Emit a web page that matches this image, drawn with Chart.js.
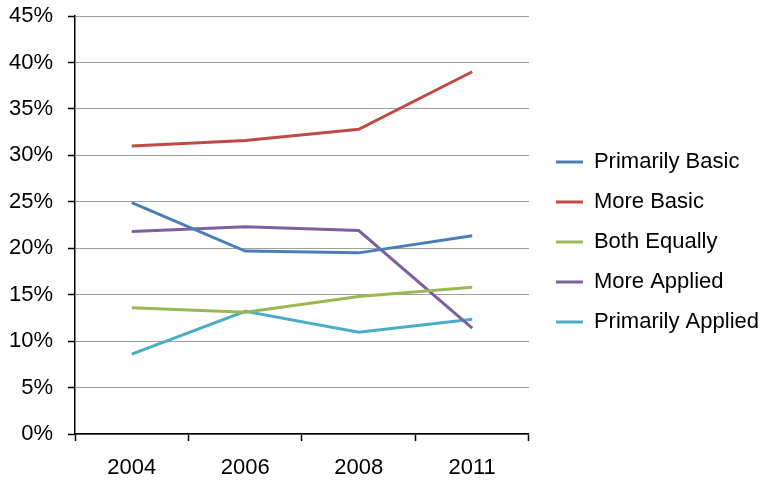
<!DOCTYPE html>
<html>
<head>
<meta charset="utf-8">
<script src="https://cdn.jsdelivr.net/npm/chart.js@4/dist/chart.umd.min.js"></script>
<style>
  body { margin: 0; background: #fff; }
</style>
</head>
<body>
<canvas id="chart" width="766" height="480"></canvas>
<script>
let years = ["2004", "2006", "2008", "2011"];
let primarilyBasic = [24.9, 19.7, 19.5, 21.35];
let moreBasic = [31.0, 31.6, 32.8, 39.0];
let bothEqually = [13.6, 13.1, 14.8, 15.8];
let moreApplied = [21.8, 22.3, 21.9, 11.4];
let primarilyApplied = [8.6, 13.2, 10.95, 12.35];

let colorPrimBasic = "rgb(74, 126, 187)";
let colorMoreBasic = "rgb(190, 75, 72)";
let colorBoth = "rgb(152, 185, 84)";
let colorMoreApplied = "rgb(125, 96, 160)";
let colorPrimApplied = "rgb(75, 172, 198)";

Chart.defaults.font.family = "'Liberation Sans', Arial, sans-serif";
Chart.defaults.font.size = 22;
Chart.defaults.color = "#000";

function series(label, data, color) {
  return {
    label: label,
    data: data,
    borderColor: color,
    backgroundColor: color,
    borderWidth: 3,
    pointRadius: 0,
    tension: 0
  };
}

// nudge legend so its items sit where the original puts them
const legendNudge = {
  id: "legendNudge",
  afterLayout(chart) {
    const lg = chart.legend;
    lg.left += 9; lg.right += 9;
    lg.top -= 6; lg.bottom -= 6;
  }
};

new Chart(document.getElementById("chart"), {
  type: "line",
  data: {
    labels: years,
    datasets: [
      series("Primarily Basic", primarilyBasic, colorPrimBasic),
      series("More Basic", moreBasic, colorMoreBasic),
      series("Both Equally", bothEqually, colorBoth),
      series("More Applied", moreApplied, colorMoreApplied),
      series("Primarily Applied", primarilyApplied, colorPrimApplied)
    ]
  },
  options: {
    responsive: false,
    animation: false,
    layout: { padding: { top: 16, right: 6, bottom: 0, left: 0 } },
    plugins: {
      tooltip: { enabled: false },
      legend: {
        position: "right",
        maxWidth: 400,
        labels: {
          usePointStyle: true,
          pointStyle: "line",
          pointStyleWidth: 27,
          padding: 18,
          color: "#000",
          font: { size: 22 }
        }
      }
    },
    scales: {
      x: {
        offset: true,
        grid: {
          offset: true,
          drawOnChartArea: false,
          tickLength: 7,
          tickColor: "#000",
          tickWidth: 1.5
        },
        border: { color: "#000", width: 1.5 },
        ticks: { padding: 14, maxRotation: 0 },
        afterFit(s) { s.height = 46; }
      },
      y: {
        min: 0,
        max: 45,
        ticks: {
          stepSize: 5,
          padding: 15,
          callback: v => v + "%"
        },
        grid: {
          color: "#a0a0a0",
          lineWidth: 1,
          tickLength: 7,
          tickColor: "#000",
          tickWidth: 1.5
        },
        border: { color: "#000", width: 1.5 },
        afterFit(s) {
          s.width = 75;
          s.paddingTop = 0;
          s.paddingBottom = 0;
        }
      }
    }
  },
  plugins: [legendNudge]
});
</script>
</body>
</html>
